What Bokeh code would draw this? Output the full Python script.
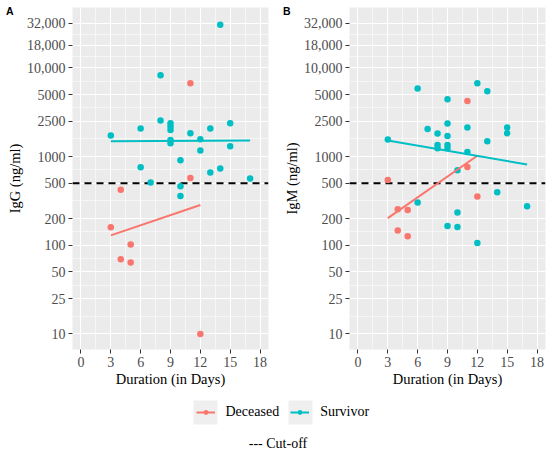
import numpy as np
from bokeh.plotting import figure
from bokeh.models import Range1d, FixedTicker, Span, Label, Legend, LegendItem, ColumnDataSource, Div
from bokeh.layouts import row, column
from bokeh.embed import file_html
from bokeh.resources import INLINE

# ---------------- data ----------------
DAY_TICKS = [0, 3, 6, 9, 12, 15, 18]
Y_TICKS = [10, 25, 50, 100, 200, 500, 1000, 2500, 5000, 10000, 18000, 32000]
Y_TICK_LABELS = ["10", "25", "50", "100", "200", "500", "1000", "2500", "5000",
                 "10,000", "18,000", "32,000"]
GROUPS = ["Deceased", "Survivor"]
CUTOFF = 500
CAPTION = "--- Cut-off"

igg_dec_days = [3, 4, 4, 5, 5, 11, 11, 12]
igg_dec_vals = [160, 421, 69.5, 102, 63.8, 6700, 574, 10]
igg_surv_days = [3, 6, 6, 7, 8, 8, 9, 9, 9, 9, 9, 10, 10, 10, 11, 12, 12, 13, 13, 14, 14, 15, 15, 17]
igg_surv_vals = [1725, 2070, 757, 509, 8260, 2547, 2374, 2178, 1996, 1539, 1412, 908, 463, 358,
                 1833, 1567, 1168, 2070, 660, 30500, 733, 2374, 1306, 565]

igm_dec_days = [3, 4, 4, 5, 5, 11, 11, 12]
igm_dec_vals = [545, 255, 147, 250, 126, 4240, 764, 354]
igm_surv_days = [3, 6, 6, 7, 8, 8, 8, 9, 9, 9, 9, 9, 9, 10, 10, 10, 11, 11, 12, 12, 13, 13, 14, 15, 15, 17]
igm_surv_vals = [1555, 5850, 303, 2050, 1815, 1352, 1239, 4427, 2355, 1706, 1352, 1239, 165,
                 701, 234, 161, 2125, 1127, 6700, 106, 5450, 1486, 395, 2125, 1832, 275]

COLORS = {"Deceased": "#F8766D", "Survivor": "#00BFC4"}
SERIF = "Liberation Serif"

x_minor = [(a + b) / 2 for a, b in zip(DAY_TICKS[:-1], DAY_TICKS[1:])]
y_minor = [float(np.sqrt(a * b)) for a, b in zip(Y_TICKS[:-1], Y_TICKS[1:])]

TOP = 7
FRAME_H = 342
BOTTOM = 40
FIG_H = TOP + FRAME_H + BOTTOM
WA, WB = 276, 274


def style_axis(ax):
    ax.axis_line_color = None
    ax.major_tick_line_color = "#333333"
    ax.major_tick_line_width = 1
    ax.major_tick_out = 4
    ax.major_tick_in = 0
    ax.minor_tick_line_color = None
    ax.minor_tick_out = 0
    ax.major_label_text_font = SERIF
    ax.major_label_text_font_size = "14px"
    ax.major_label_text_color = "#4D4D4D"
    ax.major_label_text_font_style = "normal"
    ax.axis_label_text_font = SERIF
    ax.axis_label_text_font_size = "14.5px"
    ax.axis_label_text_font_style = "normal"
    ax.axis_label_text_color = "black"
    ax.major_label_standoff = 3
    ax.axis_label_standoff = 1


def make_panel(ylabel, series, width, left, right):
    p = figure(width=width, height=FIG_H, y_axis_type="log",
               x_range=Range1d(-0.85, 18.85), y_range=Range1d(10 ** 0.825, 10 ** 4.68),
               output_backend="svg", toolbar_location=None, title=None,
               min_border_left=left, min_border_right=right,
               min_border_top=TOP, min_border_bottom=BOTTOM)
    p.background_fill_color = "#EBEBEB"
    p.border_fill_color = "white"
    p.outline_line_color = None

    xt = FixedTicker(ticks=DAY_TICKS, minor_ticks=x_minor)
    yt = FixedTicker(ticks=Y_TICKS, minor_ticks=y_minor)
    xax = p.xaxis[0]
    yax = p.yaxis[0]
    xax.ticker = xt
    yax.ticker = yt
    p.xgrid[0].ticker = xt
    p.ygrid[0].ticker = yt
    yax.major_label_overrides = dict(zip(Y_TICKS, Y_TICK_LABELS))
    for g in (p.xgrid[0], p.ygrid[0]):
        g.grid_line_color = "white"
        g.grid_line_width = 1.1
        g.minor_grid_line_color = "white"
        g.minor_grid_line_width = 0.55

    style_axis(xax)
    style_axis(yax)
    xax.axis_label = "Duration (in Days)"
    yax.axis_label = ylabel

    p.add_layout(Span(location=CUTOFF, dimension="width", line_color="black",
                      line_width=2, line_dash="7 5", level="underlay"))

    for g, (days, vals) in zip(GROUPS, series):
        p.scatter(days, vals, size=6.5, marker="circle", fill_color=COLORS[g], line_color=None)
    for g, (days, vals) in zip(GROUPS, series):
        d = np.array(days, dtype=float)
        lv = np.log10(np.array(vals, dtype=float))
        slope, icpt = np.polyfit(d, lv, 1)
        xs = np.array([d.min(), d.max()])
        p.line(xs, 10 ** (icpt + slope * xs), line_color=COLORS[g], line_width=2)
    return p


def panel_tag(letter, panel_width, x_in_panel):
    # zero net width: overlays the top-left corner of the panel that precedes it
    w = 10
    return Div(text=letter, width=w, height=14,
               margin=(5, panel_width - x_in_panel - w, 0, -(panel_width - x_in_panel)),
               styles={"font-family": "Liberation Sans", "font-weight": "bold",
                       "font-size": "10.5px", "line-height": "12px", "color": "black"})


pA = make_panel("IgG (ng/ml)",
                [(igg_dec_days, igg_dec_vals), (igg_surv_days, igg_surv_vals)], WA, 72, 8)
pB = make_panel("IgM (ng/ml)",
                [(igm_dec_days, igm_dec_vals), (igm_surv_days, igm_surv_vals)], WB, 73, 5)

# ---------------- legend strip ----------------
# the strip's ranges keep its (data-carrying) renderers out of view; only the legends show
LF_H = 454 - FIG_H
lf = figure(width=550, height=LF_H, x_range=Range1d(-20, -19), y_range=Range1d(0, 1),
            output_backend="svg", toolbar_location=None, title=None, min_border=0,
            x_axis_location=None, y_axis_location=None)
lf.outline_line_color = None
lf.xgrid.visible = False
lf.ygrid.visible = False

bg_locs = [(190, 27), (285, 27)]
fg_items = []
for g, (days, vals), loc in zip(GROUPS, [(igg_dec_days, igg_dec_vals), (igg_surv_days, igg_surv_vals)], bg_locs):
    src = ColumnDataSource(dict(x=days, y=vals))
    bg = lf.rect(x="x", y="y", width=1, height=1, source=src, fill_color="#EFEFEF", line_color=None)
    lf.add_layout(Legend(items=[LegendItem(label="", renderers=[bg])], location=loc,
                         glyph_width=30, glyph_height=30, label_standoff=0, label_width=0,
                         padding=0, margin=0, border_line_color=None, background_fill_alpha=0))
    ln = lf.line(x="x", y="y", source=src, line_color=COLORS[g], line_width=2)
    dt = lf.scatter(x="x", y="y", source=src, marker="circle", size=6,
                    fill_color=COLORS[g], line_color=None)
    fg_items.append(LegendItem(label=g, renderers=[ln, dt]))

lf.add_layout(Legend(items=fg_items, orientation="horizontal", location=(195.5, 32),
                     glyph_width=19, glyph_height=12, label_height=20,
                     label_standoff=11, spacing=11,
                     padding=0, margin=0, border_line_color=None, background_fill_alpha=0,
                     label_text_font=SERIF, label_text_font_size="14px",
                     label_text_color="black"))
lf.add_layout(Label(x=277.5, y=11, x_units="screen", y_units="screen", text=CAPTION,
                    text_font=SERIF, text_font_size="14px", text_align="center",
                    text_baseline="middle", text_color="black"))

layout = column(row(pA, panel_tag("A", WA, 6), pB, panel_tag("B", WB, 7)), lf)
open("out.html", "w").write(file_html(layout, INLINE))
